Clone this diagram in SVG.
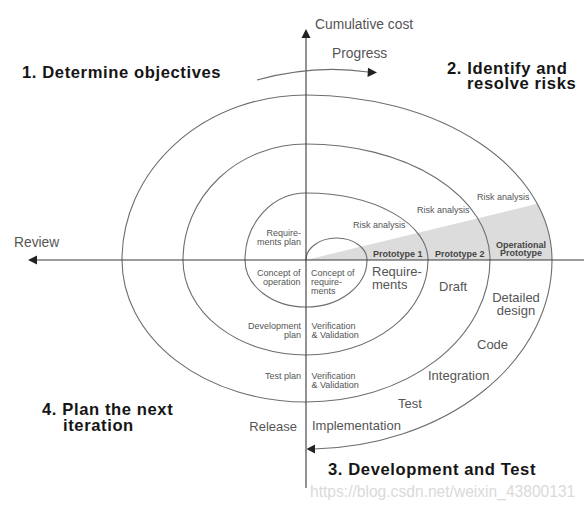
<svg xmlns="http://www.w3.org/2000/svg" width="584" height="509" viewBox="0 0 584 509">
<defs>
<style>
.spiral{fill:none;stroke:#6e6e6e;stroke-width:1.1}
.axis{fill:none;stroke:#3a3a3a;stroke-width:1.1}
.head{fill:#222}
.t{font-family:"Liberation Sans",Arial,sans-serif;fill:#555}
.s{font-size:9px}
.m{font-size:13px}
.l{font-size:13.8px}
.b{font-family:"Liberation Sans",Arial,sans-serif;font-weight:bold;font-size:16.6px;letter-spacing:0.6px;fill:#151515}
.p{font-family:"Liberation Sans",Arial,sans-serif;font-weight:bold;font-size:9px;fill:#444}
.r{text-anchor:end}
.c{text-anchor:middle}
</style>
</defs>
<rect width="584" height="509" fill="#fff"/>
<g id="wedge">
<path d="M306,260 L537.3,203.8 A246,165 0 0 1 552,260 Z" fill="#dcdcdc"/>
</g>
<g id="connectors">
<path class="spiral" d="M306,260 A30.5,22 0 0 1 367,260 A61,47 0 0 1 306,307 A61,47 0 0 1 245,260 A61,67 0 0 1 306,193 A122,67 0 0 1 428,260 A122,95 0 0 1 306,355 A123,95 0 0 1 183,260 A123,116 0 0 1 306,144 A184,116 0 0 1 490,260 A184,142 0 0 1 306,402 A184,142 0 0 1 122,260 A184,165 0 0 1 306,95 A246,165 0 0 1 552,260 A246,189 0 0 1 314,449"/>
<path class="head" d="M306.5,449 L315,444.5 L315,453.5 Z"/>
<line class="axis" x1="306" y1="36" x2="306" y2="488"/>
<path class="head" d="M306,29 L301.5,38 L310.5,38 Z"/>
<line class="axis" x1="36" y1="260" x2="584" y2="260"/>
<path class="head" d="M28,260 L37,255.5 L37,264.5 Z"/>
<path class="spiral" d="M257,80 Q314,64 368,72"/>
<path class="head" d="M377,72.5 L368,67.8 L367.5,77 Z"/>
</g>
<g id="titles">
<text class="b" x="22" y="78">1. Determine objectives</text>
<text class="b" x="447" y="73.5">2. Identify and</text>
<text class="b" x="467" y="89">resolve risks</text>
<text class="b" x="328" y="475">3. Development and Test</text>
<text class="b" x="42" y="415">4. Plan the next</text>
<text class="b" x="63" y="431">iteration</text>
</g>
<g id="axis-labels">
<text class="t l" x="315" y="29">Cumulative cost</text>
<text class="t l" x="332" y="58">Progress</text>
<text class="t l" x="14" y="247">Review</text>
</g>
<g id="quadrant-plan">
<text class="t s r" x="301" y="236">Require-</text>
<text class="t s r" x="301" y="245">ments plan</text>
<text class="t s r" x="300.5" y="276">Concept of</text>
<text class="t s r" x="300.5" y="285">operation</text>
<text class="t s r" x="301" y="328.5">Development</text>
<text class="t s r" x="301" y="337.5">plan</text>
<text class="t s r" x="301" y="379">Test plan</text>
<text class="t m r" x="297" y="431">Release</text>
</g>
<g id="quadrant-validate">
<text class="t s" x="311" y="276">Concept of</text>
<text class="t s" x="311" y="285">require-</text>
<text class="t s" x="311" y="294">ments</text>
<text class="t s" x="311.5" y="328.5">Verification</text>
<text class="t s" x="311.5" y="337.5">&amp; Validation</text>
<text class="t s" x="311.5" y="379">Verification</text>
<text class="t s" x="311.5" y="388">&amp; Validation</text>
<text class="t m" x="312" y="430">Implementation</text>
</g>
<g id="quadrant-risk">
<text class="t s" x="353" y="228">Risk analysis</text>
<text class="t s" x="417" y="213">Risk analysis</text>
<text class="t s" x="477" y="200">Risk analysis</text>
<text class="p" x="373" y="256.5">Prototype 1</text>
<text class="p" x="435" y="256.5">Prototype 2</text>
<text class="p c" x="521" y="247.5">Operational</text>
<text class="p c" x="521" y="256">Prototype</text>
</g>
<g id="quadrant-develop">
<text class="t m" x="372" y="276">Require-</text>
<text class="t m" x="372" y="289">ments</text>
<text class="t m" x="439" y="290.5">Draft</text>
<text class="t m c" x="516" y="301.5">Detailed</text>
<text class="t m c" x="516" y="315">design</text>
<text class="t m" x="477" y="349">Code</text>
<text class="t m" x="428" y="380">Integration</text>
<text class="t m" x="398" y="407.5">Test</text>
</g>
<g id="watermark">
<text x="310" y="497" font-family="Liberation Sans, Arial, sans-serif" font-size="15.6" fill="#dadada">https://blog.csdn.net/weixin_43800131</text>
</g>
</svg>
